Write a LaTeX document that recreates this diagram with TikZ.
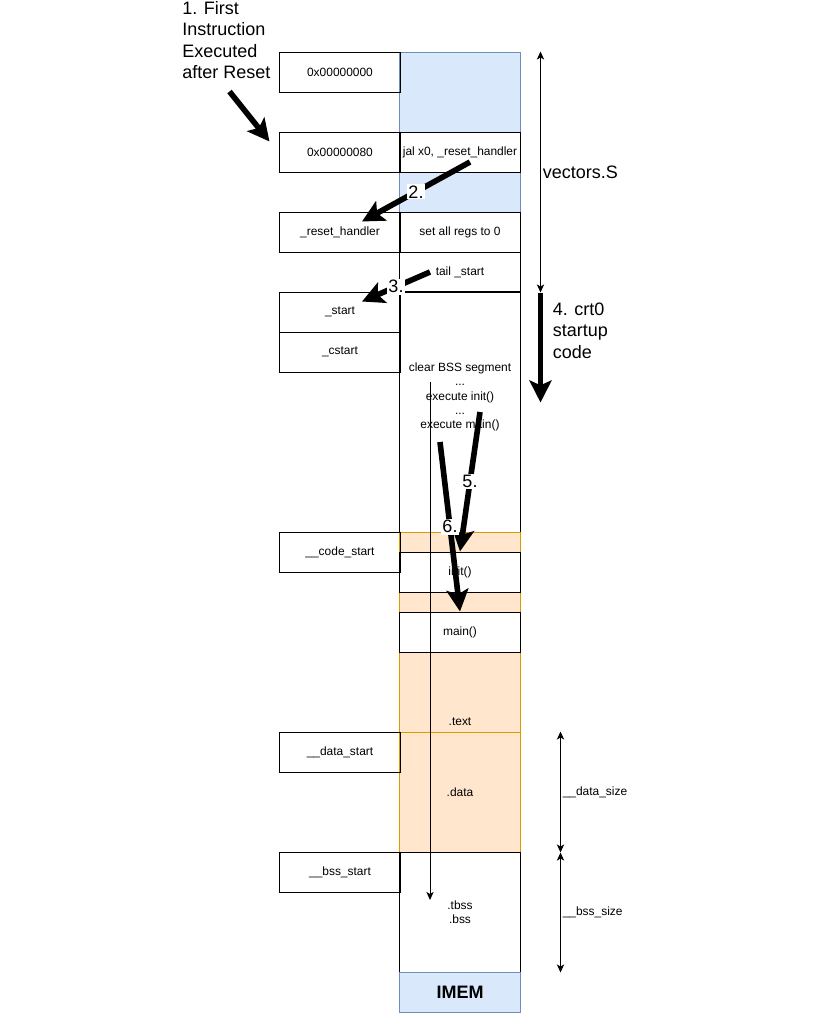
\documentclass[tikz,border=0pt]{standalone}
\usepackage{fontspec}
\setmainfont{Liberation Sans}
\usetikzlibrary{positioning,arrows.meta,calc}
\definecolor{memblue}{HTML}{DAE8FC}
\definecolor{memblueline}{HTML}{6C8EBF}
\definecolor{memorange}{HTML}{FFE6CC}
\definecolor{memorangeline}{HTML}{D79B00}
\tikzset{
  cellbox/.style={draw, line width=0.7pt, minimum width=3cm, minimum height=1cm,
    inner sep=0pt, align=center, font=\fontsize{8.5}{10.1}\selectfont},
  bluecell/.style={cellbox, draw=memblueline, fill=memblue},
  orangecell/.style={cellbox, draw=memorangeline, fill=memorange},
  steparrow/.style={line width=4pt, -{Stealth[length=5.5mm, width=5.5mm, inset=1.2mm]}},
  thinarrow/.style={line width=0.7pt, -{Stealth[length=2mm, width=1.8mm, inset=0.5mm]}},
  sizearrow/.style={line width=0.7pt, {Stealth[length=2mm, width=1.8mm, inset=0.5mm]}-{Stealth[length=2mm, width=1.8mm, inset=0.5mm]}},
  bigtext/.style={font=\fontsize{12.8}{15.3}\selectfont, inner sep=0pt, align=left},
  steplabel/.style={font=\fontsize{12.8}{15.3}\selectfont, fill=white, inner sep=1pt},
  smalltext/.style={font=\fontsize{8.5}{10.1}\selectfont, inner sep=0pt, align=center},
}

\begin{document}
\begin{tikzpicture}[x=0.025cm, y=-0.025cm]
  \useasboundingbox (0,0) rectangle (840,1014);
  % IMEM column
  \node[bluecell, minimum height=2cm] (vecfill) at (460,92) {};
  \node[bluecell] (gapfill) at (460,192) {};
  \node[cellbox, minimum height=6cm] (crtbox) at (460,412) {};
  \node[smalltext] (crttxt) at (460,397) {clear BSS segment\\...\\execute init()\\...\\execute main()};
  \node[orangecell, minimum height=5mm] (codegap) at (460,542) {};
  \node[orangecell, minimum height=5mm] (initgap) at (460,602) {};
  \node[orangecell, minimum height=2cm] (textsec) at (460,692) {};
  \node[orangecell, minimum height=3cm] (datasec) at (460,792) {.data};
  \node[smalltext] (textlbl) at (460,722) {.text};
  \node[cellbox] (jal) at (460,152) {jal x0, \_reset\_handler};
  \node[cellbox] (setregs) at (460,232) {set all regs to 0};
  \node[cellbox] (tail) at (460,272) {tail \_start};
  \node[cellbox] (init) at (460,572) {init()};
  \node[cellbox] (main) at (460,632) {main()};
  \node[cellbox, minimum height=3cm] (bsssec) at (460,912) {.tbss\\.bss};
  \node[bluecell] (imem) at (460,992) {\fontsize{12.8}{15}\selectfont\bfseries IMEM};
  % symbols
  \foreach \nm/\y/\txt in {addr0/72/0x00000000, addr80/152/0x00000080,
      reset/232/\_reset\_handler, start/312/\_start, cstart/352/\_cstart,
      codestart/552/\_\_code\_start, datastart/752/\_\_data\_start,
      bssstart/872/\_\_bss\_start}
    \node[cellbox] (\nm) at (340,\y) {\txt};

  \node[bigtext, anchor=north west] (firsttxt) at (182,1) {1. First\\Instruction\\Executed\\after Reset};
  \draw[steparrow] ($(addr80.north west)+(-50,-40)$) -- ($(addr80.north west)+(-10,10)$);
  \draw[steparrow] ($(jal.center)+(10,10)$) -- ($(reset.north)+(22,10)$)
    node[steplabel, midway] {2.};
  \draw[steparrow] ($(tail.center)+(-30,0)$) -- ($(start.north)+(22,10)$)
    node[steplabel, midway] {3.};
  \draw[steparrow] ($(crtbox.center)+(20,0)$) -- (init.north)
    node[steplabel, midway] {5.};
  \draw[steparrow] ($(crtbox.center)+(-20,30)$) -- (main.north)
    node[steplabel, midway] {6.};
  \draw[thinarrow] ($(crttxt.center)+(-30,-15)$) coordinate (clrtop) -- ($(bsssec.center)+(-30,-12)$) coordinate (clrend);

  % right side
  \coordinate (vectop) at ($(vecfill.north east)+(20,0)$);
  \coordinate (vecend) at ($(tail.south east)+(20,0)$);
  \coordinate (crtend) at ($(vecend)+(0,110)$);
  \draw[sizearrow] (vectop) -- (vecend);
  \node[bigtext, anchor=west] (vectxt) at ($(jal.south east)+(22,0)$) {vectors.S};
  \draw[steparrow] (vecend) -- (crtend);
  \node[bigtext, anchor=north west] (crttitle) at ($(vecend)+(12,10)$) {4. crt0\\startup\\code};
  \coordinate (datatop) at ($(datasec.north east)+(40,0)$);
  \coordinate (databot) at ($(datasec.south east)+(40,0)$);
  \coordinate (bssbot) at ($(bsssec.south east)+(40,0)$);
  \draw[sizearrow] (datatop) -- (databot);
  \draw[sizearrow] (databot) -- (bssbot);
  \node[smalltext, anchor=west] (datasize) at ($(datasec.east)+(42,0)$) {\_\_data\_size};
  \node[smalltext, anchor=west] (bsssize) at ($(bsssec.east)+(42,0)$) {\_\_bss\_size};
\end{tikzpicture}
\end{document}
